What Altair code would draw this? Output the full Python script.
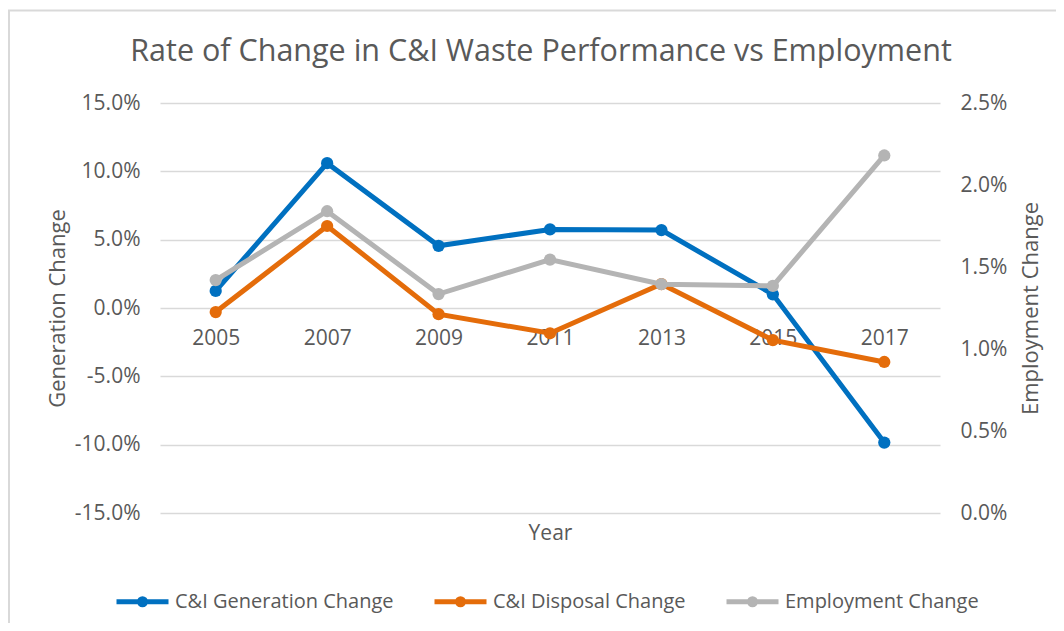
import altair as alt
import pandas as pd

years = ["2005", "2007", "2009", "2011", "2013", "2015", "2017"]
generation = [0.0125, 0.106, 0.0455, 0.0575, 0.057, 0.010, -0.0985]
disposal = [-0.003, 0.060, -0.0045, -0.0185, 0.0175, -0.0235, -0.0395]
employment = [0.0142, 0.0184, 0.01335, 0.01545, 0.01395, 0.01385, 0.0218]

series_names = ["C&I Generation Change", "C&I Disposal Change", "Employment Change"]
colors = ["#0070C0", "#E46C0A", "#B4B4B4"]

rows = []
for name, vals in zip(series_names, [generation, disposal, employment]):
    for y, v in zip(years, vals):
        rows.append({"Year": y, "Series": name, "Value": v})
df = pd.DataFrame(rows)

FONT = "Open Sans"
TXT = "#595959"
MINUS_FIX = "replace(datum.label, '\u2212', '-')"

color = alt.Color(
    "Series:N",
    scale=alt.Scale(domain=series_names, range=colors),
    sort=series_names,
    legend=alt.Legend(
        title=None,
        orient="none",
        direction="horizontal",
        legendX=-30,
        legendY=486,
        symbolType="M-2.6,0L2.6,0M-0.3,0A0.3,0.3,0,1,1,0.3,0A0.3,0.3,0,1,1,-0.3,0",
        symbolSize=400,
        symbolStrokeWidth=5,
        labelOffset=20,
        columnPadding=30,
        labelFontSize=20,
        labelColor=TXT,
        labelFont=FONT,
        labelLimit=400,
    ),
)

x = alt.X(
    "Year:O",
    sort=years,
    scale=alt.Scale(type="point", padding=0.5),
    axis=alt.Axis(
        title="Year",
        offset=-205,
        domain=False,
        ticks=False,
        grid=False,
        labelAngle=0,
        labelPadding=19,
        labelFontSize=21,
        labelColor=TXT,
        labelFont=FONT,
        titleFontSize=21,
        titleColor=TXT,
        titleFont=FONT,
        titleFontWeight="normal",
        titleY=225,
        titleBaseline="middle",
    ),
)

left = (
    alt.Chart(df)
    .transform_filter(alt.datum.Series != "Employment Change")
    .mark_line(strokeWidth=5, point=alt.OverlayMarkDef(size=150, filled=True, opacity=1))
    .encode(
        x=x,
        y=alt.Y(
            "Value:Q",
            scale=alt.Scale(domain=[-0.15, 0.15], nice=False, zero=False),
            axis=alt.Axis(
                title="Generation Change",
                values=[-0.15, -0.10, -0.05, 0, 0.05, 0.10, 0.15],
                format=".1%",
                labelExpr=MINUS_FIX,
                domain=False,
                ticks=False,
                grid=True,
                gridColor="#D9D9D9",
                gridWidth=1.5,
                labelPadding=20,
                labelFontSize=21,
                labelColor=TXT,
                labelFont=FONT,
                titleFontSize=22,
                titleColor=TXT,
                titleFont=FONT,
                titleFontWeight="normal",
                titleX=-103,
                titleY=205,
                titleAlign="center",
                titleBaseline="middle",
            ),
        ),
        color=color,
        order=alt.Order("Year:O"),
    )
)

right = (
    alt.Chart(df)
    .transform_filter(alt.datum.Series == "Employment Change")
    .mark_line(strokeWidth=5, point=alt.OverlayMarkDef(size=150, filled=True, opacity=1))
    .encode(
        x=x,
        y=alt.Y(
            "Value:Q",
            scale=alt.Scale(domain=[0, 0.025], nice=False, zero=False),
            axis=alt.Axis(
                orient="right",
                title="Employment Change",
                values=[0, 0.005, 0.01, 0.015, 0.02, 0.025],
                format=".1%",
                domain=False,
                ticks=False,
                grid=False,
                labelPadding=20,
                labelFontSize=21,
                labelColor=TXT,
                labelFont=FONT,
                titleFontSize=22,
                titleColor=TXT,
                titleFont=FONT,
                titleFontWeight="normal",
                titleX=90,
                titleY=205,
                titleAngle=-90,
                titleAlign="center",
                titleBaseline="middle",
            ),
        ),
        color=color,
        order=alt.Order("Year:O"),
    )
)

# light grey chart-area frame (top and left edges, as in the reference)
frame_df = pd.DataFrame({"k": [0]})
frame_v = alt.Chart(frame_df).mark_rule(color="#D9D9D9", strokeWidth=2).encode(
    x=alt.value(-151), y=alt.value(-93), y2=alt.value(520)
)
frame_h = alt.Chart(frame_df).mark_rule(color="#D9D9D9", strokeWidth=2).encode(
    x=alt.value(-152), x2=alt.value(900), y=alt.value(-92.5)
)

chart = (
    alt.layer(frame_v, frame_h, left, right)
    .resolve_scale(y="independent")
    .properties(
        width=780,
        height=410,
        autosize=alt.AutoSizeParams(type="none"),
        padding={"left": 152, "top": 95, "right": 116, "bottom": 110},
        view=alt.ViewBackground(stroke=None, strokeWidth=0),
        title=alt.TitleParams(
            "Rate of Change in C&I Waste Performance vs Employment",
            fontSize=30.5,
            font=FONT,
            color=TXT,
            fontWeight="normal",
            anchor="middle",
            offset=-58,
            dx=-9,
        ),
    )
    .configure_view(stroke=None, strokeWidth=0)
    .configure_axis(domain=False, domainOpacity=0)
    .configure(background="white")
)

chart.save("out.html", embed_options={"renderer": "svg", "actions": False})
